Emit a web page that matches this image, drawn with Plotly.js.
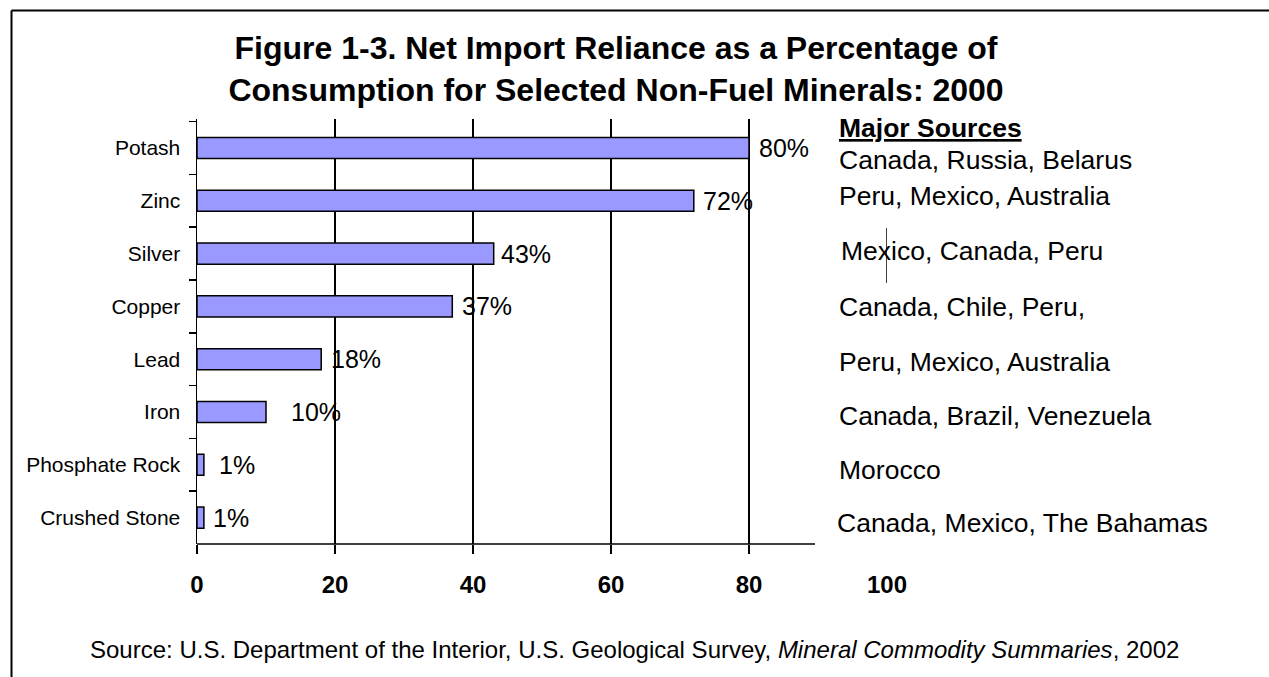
<!DOCTYPE html>
<html>
<head>
<meta charset="utf-8">
<script src="https://cdn.plot.ly/plotly-3.0.1.min.js"></script>
<style>
  html, body { margin: 0; padding: 0; background: #fff; }
  #chart { width: 1269px; height: 677px; }
</style>
</head>
<body>
<div id="chart"></div>
<script>
// ---- data ----
const categories = ['Potash', 'Zinc', 'Silver', 'Copper', 'Lead', 'Iron', 'Phosphate Rock', 'Crushed Stone'];
const reliance = [80, 72, 43, 37, 18, 10, 1, 1];
const majorSources = [
  'Canada, Russia, Belarus',
  'Peru, Mexico, Australia',
  'Mexico, Canada, Peru',
  'Canada, Chile, Peru,',
  'Peru, Mexico, Australia',
  'Canada, Brazil, Venezuela',
  'Morocco',
  'Canada, Mexico, The Bahamas'
];
const xTickVals = [0, 20, 40, 60, 80, 100];
const xTickText = ['0', '20', '40', '60', '80', '100'];
const gridVals = [0, 20, 40, 60, 80];

// ---- styling (offsets in px) ----
const valueLabelXShift = [8, 7, 5, 8, 8, 23, 13, 7];
const sourceYShift = [-12, 5, 3, -1, -3, -4, -5, -5];
const sourceXShift = [0, 0, 2, 0, 0, 0, 0, -2];

const FONT = 'Liberation Sans, Arial, sans-serif';
const W = 1269, H = 677;
const L = 197, R = 887, T = 119, B = 544;
const px2paperX = px => (px - L) / (R - L);
const px2paperY = py => (B - py) / (B - T);

const trace = {
  type: 'bar',
  orientation: 'h',
  x: reliance,
  y: categories,
  width: 0.4,
  marker: { color: '#9999FF', line: { color: '#000000', width: 1.5 } },
  hoverinfo: 'x+y'
};

const annotations = [];
reliance.forEach((v, i) => {
  annotations.push({
    x: v, y: categories[i], xref: 'x', yref: 'y',
    text: v + '%', showarrow: false, xanchor: 'left', yanchor: 'middle',
    xshift: valueLabelXShift[i], yshift: 0,
    font: { family: FONT, size: 25, color: '#000' }
  });
});
majorSources.forEach((s, i) => {
  annotations.push({
    x: px2paperX(837), y: categories[i], xref: 'paper', yref: 'y',
    text: s, showarrow: false, xanchor: 'left', yanchor: 'middle',
    xshift: sourceXShift[i], yshift: sourceYShift[i],
    font: { family: FONT, size: 26.5, color: '#000' }
  });
});
annotations.push({
  x: px2paperX(837), y: px2paperY(128), xref: 'paper', yref: 'paper',
  text: '<b><u>Major Sources</u></b>', showarrow: false, xanchor: 'left', yanchor: 'middle',
  font: { family: FONT, size: 26.5, color: '#000' }
});
annotations.push({
  x: px2paperX(634), y: px2paperY(649), xref: 'paper', yref: 'paper',
  text: 'Source: U.S. Department of the Interior, U.S. Geological Survey, <i>Mineral Commodity Summaries</i>, 2002',
  showarrow: false, xanchor: 'center', yanchor: 'middle',
  font: { family: FONT, size: 24, color: '#000' }
});

const layout = {
  width: W, height: H, autosize: false,
  paper_bgcolor: '#ffffff', plot_bgcolor: '#ffffff',
  margin: { l: L, r: W - R, t: T, b: H - B, pad: 0 },
  showlegend: false,
  title: {
    text: '<b>Figure 1-3. Net Import Reliance as a Percentage of<br>Consumption for Selected Non-Fuel Minerals: 2000</b>',
    font: { family: FONT, size: 32, color: '#000' },
    x: 616 / W, xref: 'container', xanchor: 'center',
    y: 1 - 59 / H, yref: 'container', yanchor: 'top'
  },
  xaxis: {
    range: [0, 100], fixedrange: true,
    tickvals: xTickVals, ticktext: xTickText,
    ticks: '', showgrid: false, zeroline: false, showline: false,
    tickfont: { family: FONT, size: 24, color: '#000', weight: 'bold' },
    ticklabelstandoff: 24,
    minor: {
      tickvals: gridVals, ticks: 'outside', ticklen: 9, tickwidth: 1.5, tickcolor: '#000',
      showgrid: true, gridcolor: '#000', gridwidth: 1.5
    }
  },
  yaxis: {
    type: 'category', autorange: 'reversed', fixedrange: true,
    tickson: 'boundaries', ticks: 'outside', ticklen: 7, tickwidth: 1.5, tickcolor: '#000',
    showline: true, linecolor: '#000', linewidth: 1.5,
    showgrid: false, zeroline: false,
    tickfont: { family: FONT, size: 21, color: '#000' },
    ticklabelstandoff: 11
  },
  shapes: [
    // bottom axis line (stops before the source text block)
    { type: 'line', xref: 'x', yref: 'paper', x0: 0, x1: 89.57, y0: 0, y1: 0,
      line: { color: '#000', width: 1.5 } },
    // remnant of the 100 gridline visible between the source text boxes
    { type: 'line', xref: 'x', yref: 'paper', x0: 100, x1: 100,
      y0: px2paperY(283), y1: px2paperY(228), line: { color: '#000', width: 1.5 } },
    // frame (left and top edges)
    { type: 'line', xref: 'paper', yref: 'paper', x0: px2paperX(11.5), x1: px2paperX(11.5),
      y0: px2paperY(680), y1: px2paperY(10.5), line: { color: '#000', width: 2 } },
    { type: 'line', xref: 'paper', yref: 'paper', x0: px2paperX(11.5), x1: px2paperX(1272),
      y0: px2paperY(10.5), y1: px2paperY(10.5), line: { color: '#000', width: 2 } }
  ],
  annotations: annotations
};

Plotly.newPlot('chart', [trace], layout, { displayModeBar: false, staticPlot: true });
</script>
</body>
</html>
